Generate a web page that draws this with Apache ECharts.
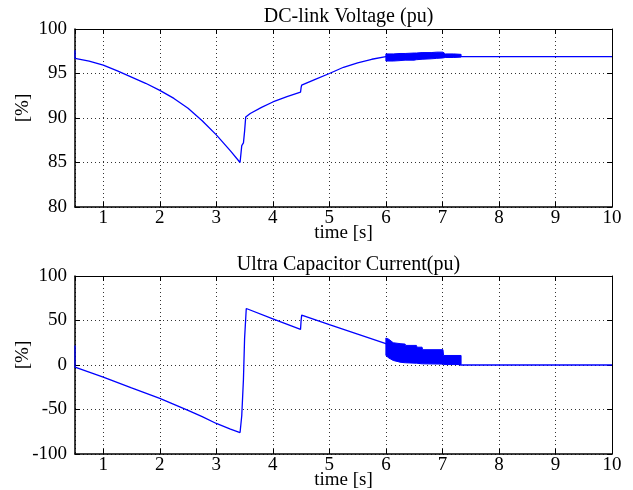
<!DOCTYPE html>
<html>
<head>
<meta charset="utf-8">
<script src="https://cdn.jsdelivr.net/npm/echarts@6/dist/echarts.min.js"></script>
<style>
  html, body { margin: 0; padding: 0; background: #fff; }
  #main { width: 633px; height: 490px; }
</style>
</head>
<body>
<div id="main"></div>
<script>
// DC-link voltage (top panel), main trace
var voltT = [0.5, 0.5, 0.75, 1.0, 1.25, 1.5, 1.75, 2.0, 2.25, 2.5, 2.75, 3.0, 3.25, 3.42, 3.43, 3.45, 3.48, 3.5, 3.52, 3.6, 3.8, 4.0, 4.25, 4.49, 4.5, 4.51, 4.75, 5.0, 5.25, 5.5, 5.75, 6.0, 7.33, 10];
var voltV = [97.6, 96.7, 96.4, 95.95, 95.3, 94.6, 93.9, 93.1, 92.2, 91.1, 89.7, 88.1, 86.3, 85.0, 85.0, 86.9, 87.2, 88.5, 90.1, 90.5, 91.2, 91.8, 92.4, 92.9, 93.4, 93.7, 94.35, 95.0, 95.7, 96.2, 96.6, 96.9, 96.9, 96.9];
// oscillation band 6 .. 7.33 s (envelope)
var vBandT  = [6.0, 6.13, 6.25, 6.34, 6.5, 6.54, 6.64, 6.8, 6.9, 7.01, 7.05, 7.2, 7.33];
var vBandHi = [97.2, 97.2, 97.25, 97.25, 97.3, 97.3, 97.35, 97.35, 97.4, 97.4, 97.2, 97.2, 97.15];
var vBandLo = [96.4, 96.4, 96.45, 96.5, 96.5, 96.55, 96.6, 96.65, 96.7, 96.75, 96.8, 96.8, 96.85];

// ultra capacitor current (bottom panel)
var curT = [0.5, 0.5, 0.75, 1.0, 1.5, 2.0, 2.5, 2.75, 3.0, 3.25, 3.42, 3.43, 3.45, 3.48, 3.5, 3.53, 4.0, 4.49, 4.5, 4.51, 5.0, 5.5, 6.0, 7.33, 10];
var curV = [22, -2.5, -8, -13.7, -25.8, -37.5, -51, -58, -65.7, -72, -75.9, -76, -57, -16, 29.6, 63.5, 51.9, 40, 50, 56, 45.3, 34.6, 24, 0, 0];
var cBandT  = [6.0, 6.05, 6.13, 6.25, 6.34, 6.35, 6.54, 6.55, 6.64, 6.65, 7.01, 7.02, 7.33];
var cBandHi = [30.3, 29, 25, 24, 23.5, 22, 22, 20, 20, 17.2, 17.2, 10.7, 10.7];
var cBandLo = [10.7, 8, 5.1, 3.2, 2.5, 2.5, 2.0, 2.0, 1.3, 1.3, 1.0, 0.5, 0.5];

var titles = ['DC-link Voltage (pu)', 'Ultra Capacitor Current(pu)'];
var font = 'Liberation Serif';

function pairs(t, v) {
  return t.map(function (x, i) { return [x, v[i]]; });
}

// band polygon drawn through the axis scales
function bandSeries(idx, t, hi, lo) {
  return {
    type: 'custom',
    xAxisIndex: idx * 2,
    yAxisIndex: idx * 2,
    silent: true,
    data: [[t[0], hi[0]]],
    renderItem: function (params, api) {
      var pts = [];
      for (var i = 0; i < t.length; i++) pts.push(api.coord([t[i], hi[i]]));
      for (var j = t.length - 1; j >= 0; j--) pts.push(api.coord([t[j], lo[j]]));
      return {
        type: 'polygon',
        shape: { points: pts },
        style: { fill: '#0000ff', stroke: '#0000ff', lineWidth: 1 }
      };
    }
  };
}

var grids = [
  { left: 75, top: 29, width: 537, height: 178, outerBoundsMode: 'none', containLabel: false },
  { left: 75, top: 276, width: 537, height: 178, outerBoundsMode: 'none', containLabel: false }
];
var yRange = [[80, 100, 5], [-100, 100, 50]];

var xAxes = [], yAxes = [];
grids.forEach(function (g, i) {
  xAxes.push({
    type: 'value', gridIndex: i, min: 0.5, max: 10, minInterval: 1, maxInterval: 1,
    name: 'time [s]', nameLocation: 'middle', nameGap: 17, nameMoveOverlap: false,
    nameTextStyle: { fontFamily: font, fontSize: 19, color: '#000' },
    axisLine: { onZero: false, lineStyle: { color: '#000', width: 1.5 } },
    axisTick: { inside: true, length: 5, lineStyle: { color: '#000' } },
    axisLabel: { showMinLabel: false, margin: 2, fontFamily: font, fontSize: 19, color: '#000' },
    splitLine: { show: true, lineStyle: { color: '#333', type: [1, 3], width: 1 } }
  });
  xAxes.push({
    type: 'value', gridIndex: i, position: 'top', min: 0.5, max: 10, minInterval: 1, maxInterval: 1,
    axisLine: { onZero: false, lineStyle: { color: '#000', width: 1 } },
    axisTick: { inside: true, length: 5, lineStyle: { color: '#000' } },
    axisLabel: { show: false },
    splitLine: { show: false }
  });
  yAxes.push({
    type: 'value', gridIndex: i, min: yRange[i][0], max: yRange[i][1], interval: yRange[i][2],
    name: '[%]', nameLocation: 'middle', nameGap: 42, nameRotate: 90, nameMoveOverlap: false,
    nameTextStyle: { fontFamily: font, fontSize: 19, color: '#000', padding: [0, 0, 0, 20] },
    axisLine: { show: true, onZero: false, lineStyle: { color: '#000', width: 1.5 } },
    axisTick: { show: true, inside: true, length: 5, lineStyle: { color: '#000' } },
    axisLabel: { margin: 8, fontFamily: font, fontSize: 19, color: '#000' },
    splitLine: { show: true, lineStyle: { color: '#333', type: [1, 3], width: 1 } }
  });
  yAxes.push({
    type: 'value', gridIndex: i, position: 'right', min: yRange[i][0], max: yRange[i][1], interval: yRange[i][2],
    axisLine: { show: true, onZero: false, lineStyle: { color: '#000', width: 1 } },
    axisTick: { show: true, inside: true, length: 5, lineStyle: { color: '#000' } },
    axisLabel: { show: false },
    splitLine: { show: false }
  });
});

var chart = echarts.init(document.getElementById('main'), null, { renderer: 'canvas' });
chart.setOption({
  animation: false,
  backgroundColor: '#fff',
  title: titles.map(function (t, i) {
    return {
      text: t, left: 343.5, top: i === 0 ? 2 : 250, textAlign: 'center',
      textStyle: { fontFamily: font, fontSize: 20, fontWeight: 'normal', color: '#000' }
    };
  }),
  grid: grids,
  xAxis: xAxes,
  yAxis: yAxes,
  series: [
    {
      type: 'line', xAxisIndex: 0, yAxisIndex: 0, data: pairs(voltT, voltV),
      showSymbol: false, lineStyle: { color: '#0000ff', width: 1.3 }
    },
    bandSeries(0, vBandT, vBandHi, vBandLo),
    {
      type: 'line', xAxisIndex: 2, yAxisIndex: 2, data: pairs(curT, curV),
      showSymbol: false, lineStyle: { color: '#0000ff', width: 1.3 }
    },
    bandSeries(1, cBandT, cBandHi, cBandLo)
  ]
});
</script>
</body>
</html>
